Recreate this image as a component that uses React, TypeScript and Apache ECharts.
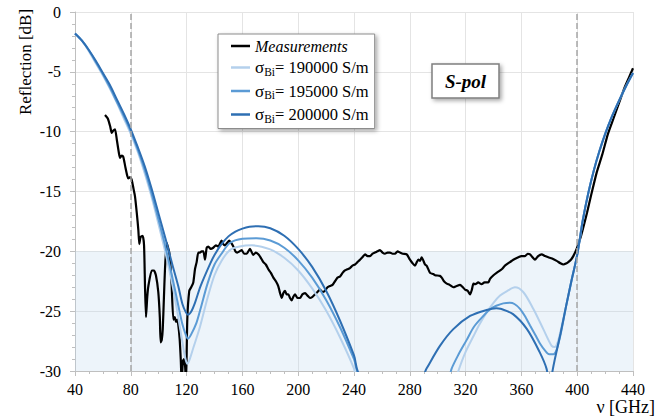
import React, { useEffect, useRef } from "react";
import * as echarts from "echarts";

const xTicks = [40, 80, 120, 160, 200, 240, 280, 320, 360, 400, 440];
const yTicks = [-30, -25, -20, -15, -10, -5, 0];

const measFreq = [61.5, 63.5, 65.3, 66.3, 67.5, 68.7, 70, 71.5, 72.3, 73.5, 74.6, 76, 77.5, 78.2, 79.5, 80.6, 82, 83, 84.3, 85.4, 86.1, 87, 88.5, 89.5, 90.2, 90.9, 91.8, 92.6, 95, 96.5, 98, 99.7, 100.8, 101.4, 102.2, 102.9, 103.7, 104.5, 105.7, 106.5, 107.6, 108.5, 109.3, 110.5, 111.5, 112.4, 113.3, 114.1, 115, 115.8, 116.5, 117.3, 118.1, 118.9, 119.6, 120.5, 121.9, 123.3, 124.8, 126, 127.2, 128.4, 129.6, 130.8, 132, 133.2, 134.4, 135.6, 137.3, 139.1, 141, 142.7, 145.1, 146.3, 147.5, 149, 150.6, 152, 153.5, 155, 156.3, 158, 159.5, 161.2, 163.1, 165.4, 167.8, 169.6, 171.4, 173, 175, 176.8, 178.6, 180.4, 182.2, 184, 185.7, 187, 188.2, 189.3, 190.5, 191.7, 192.9, 194.1, 195.3, 196.5, 197.7, 199.5, 201.3, 203, 204.9, 206.7, 208.5, 210.2, 212, 213.8, 215.6, 217.4, 219.2, 221, 222.8, 224.6, 226.4, 228.2, 230, 231.8, 233.5, 235.3, 237.1, 238.9, 240.7, 242.5, 244.3, 246, 247.9, 249.7, 251.5, 253.3, 255, 256.8, 258.6, 260.4, 262.2, 264, 265.8, 267.6, 269.4, 271.2, 273, 275, 277.8, 280.1, 282, 283.7, 285, 286.1, 287.4, 288.5, 290.9, 292.1, 294.5, 296.9, 298.1, 301.6, 302.9, 304.5, 306.5, 308.5, 311.2, 313.5, 316, 318, 319.6, 321.5, 323.2, 324.5, 325.6, 327, 329, 331.5, 333.5, 336.3, 337.5, 340, 342.2, 345.9, 348.2, 351.8, 354.2, 357.8, 360, 362.6, 364.5, 366.2, 368, 369.7, 372, 374.5, 377, 379.3, 382, 385.3, 388, 390, 392.4, 393.6, 395.5, 397.2, 399.6, 403, 407, 410, 414, 418, 422, 426, 430, 434, 437, 440];
const measDb = [-8.6, -8.9, -9.6, -10.1, -9.9, -9.8, -10.7, -11.8, -12.2, -12.0, -12.1, -12.9, -13.7, -13.9, -13.8, -14.0, -14.8, -15.4, -16.8, -18.2, -19.4, -18.8, -18.7, -19.5, -23, -25.5, -23.8, -22.9, -21.6, -21.6, -22.0, -23.4, -25.5, -27.6, -27.4, -26.5, -24.0, -21.5, -19.3, -19.6, -20.1, -21.3, -22.9, -25.7, -25.5, -25.9, -25.7, -26.2, -27.3, -29, -31, -29.2, -29, -29.6, -31, -25.7, -23.3, -23.0, -22.6, -21.5, -20.9, -20.1, -20.1, -20.0, -20.0, -20.7, -19.7, -19.6, -19.8, -19.7, -19.5, -19.6, -19.1, -19.4, -19.5, -19.3, -19.1, -19.3, -19.6, -20.0, -20.1, -20.0, -19.9, -20.2, -20.2, -19.8, -20.3, -20.1, -20.25, -20.5, -20.9, -21.1, -21.5, -21.8, -22.2, -22.5, -22.9, -23.5, -23.9, -23.5, -23.3, -23.6, -23.6, -23.9, -24.1, -23.8, -23.6, -23.9, -23.9, -23.6, -23.5, -23.7, -23.9, -23.8, -23.6, -23.4, -23.2, -23.4, -23.3, -23.0, -22.9, -22.8, -22.5, -22.2, -22.1, -21.8, -21.6, -21.5, -21.4, -21.2, -21.1, -20.9, -20.7, -20.5, -20.25, -20.4, -20.4, -20.2, -20.1, -20.0, -19.9, -20.1, -20.2, -20.1, -20.1, -20.2, -20.2, -20.0, -20.1, -20.2, -20.25, -20.7, -21.0, -21.2, -20.9, -20.7, -20.8, -20.5, -21.1, -21.2, -21.8, -21.9, -22.0, -22.05, -22.2, -22.5, -22.7, -22.8, -23.0, -22.9, -22.8, -23.0, -23.2, -23.3, -23.6, -23.2, -22.7, -22.75, -22.6, -22.75, -22.6, -22.6, -22.3, -22.0, -21.8, -21.5, -21.2, -20.9, -20.7, -20.5, -20.4, -20.4, -20.2, -20.25, -20.5, -20.7, -20.4, -20.25, -20.4, -20.5, -20.6, -20.8, -21.0, -21.1, -21.0, -20.9, -20.7, -20.4, -19.8, -18.6, -16.8, -15.3, -13.4, -11.9, -10.2, -8.9, -7.6, -6.3, -5.5, -4.7];

const s190Freq = [40, 45, 50, 55, 60, 65, 70, 75, 80, 85, 90, 95, 100, 105, 110, 114, 117, 119, 120.5, 122, 125, 129.6, 135, 140, 145, 151, 158, 166.7, 180, 190, 200, 210, 220, 230, 240, 243, 290, 308, 314.8, 320, 325.6, 330, 335.1, 340, 344.7, 350, 355.4, 361.3, 368.5, 375.7, 381.7, 384, 386, 388, 392, 396, 400, 404, 408, 412, 416, 420, 425, 430, 435, 440];
const s190Db = [-1.8, -2.4, -3.3, -4.3, -5.3, -6.4, -7.6, -8.9, -10.2, -11.7, -13.5, -15.5, -17.8, -20.2, -22.9, -25.5, -27.6, -28.9, -29.4, -29.1, -28.0, -26.3, -23.9, -22.0, -20.8, -19.9, -19.6, -19.5, -19.84, -20.54, -21.6, -23.1, -24.95, -27.2, -29.8, -31, -31, -32.5, -30, -28.4, -27.1, -26.1, -25.1, -24.3, -23.7, -23.3, -23.0, -23.4, -24.8, -26.5, -27.9, -28.0, -27.6, -26.7, -24.6, -22.4, -20.3, -17.4, -15.1, -13.2, -11.6, -10.2, -8.7, -7.4, -6.2, -5.1];

const s195Freq = [40, 45, 50, 55, 60, 65, 70, 75, 80, 85, 90, 95, 100, 105, 110, 114, 117, 119.5, 121, 123, 127, 130, 135, 140, 145, 151, 160, 170.2, 180, 190, 200, 210, 220, 230, 240, 245, 290, 305, 310, 315, 320.8, 326, 332.7, 338, 342, 347, 351.8, 355, 359, 363, 366.2, 370, 373.3, 377, 380, 383, 385, 388, 392, 396, 400, 404, 408, 412, 416, 420, 425, 430, 435, 440];
const s195Db = [-1.8, -2.4, -3.2, -4.2, -5.2, -6.3, -7.5, -8.7, -10.0, -11.5, -13.2, -15.2, -17.4, -19.7, -22.3, -24.5, -26.1, -27.0, -27.3, -27.0, -26.0, -24.8, -22.7, -21.1, -20.2, -19.3, -18.95, -18.9, -19.1, -19.7, -20.75, -22.2, -24.06, -26.34, -29.0, -30.5, -31, -31.6, -29.8, -28.6, -27.4, -26.3, -25.4, -24.8, -24.55, -24.35, -24.3, -24.4, -24.8, -25.5, -26.2, -27.0, -27.7, -28.3, -28.6, -28.6, -28.3, -27.0, -24.6, -22.4, -20.3, -17.4, -15.1, -13.2, -11.6, -10.2, -8.7, -7.4, -6.2, -5.1];

const s200Freq = [40, 45, 50, 55, 60, 65, 70, 75, 80, 85, 90, 95, 100, 105, 110, 114, 117, 119.5, 121, 123, 126, 130, 137, 140, 145, 150, 155, 160, 165, 171.4, 180, 190, 200, 210, 220, 230, 240, 245, 286, 292, 301.6, 311.2, 323.2, 335, 342, 345, 354, 364, 373, 378, 380.5, 382, 384, 388, 392, 396, 400, 404, 408, 412, 416, 420, 425, 430, 435, 440];
const s200Db = [-1.8, -2.4, -3.2, -4.1, -5.1, -6.1, -7.3, -8.5, -9.8, -11.3, -12.9, -14.8, -16.9, -19.0, -21.2, -22.9, -24.4, -25.1, -25.3, -25.1, -24.3, -22.9, -21.0, -20.3, -19.4, -18.75, -18.35, -18.1, -17.95, -17.9, -18.07, -18.7, -19.8, -21.3, -23.3, -25.8, -28.7, -30.4, -31, -29.8, -27.9, -26.5, -25.4, -24.9, -24.75, -24.8, -25.25, -26.5, -28.4, -29.8, -31.5, -30.2, -29.0, -26.9, -24.6, -22.4, -20.3, -17.4, -15.1, -13.2, -11.6, -10.2, -8.7, -7.4, -6.2, -5.1];

const seriesNames = ["Measurements", "σBi= 190000 S/m", "σBi= 195000 S/m", "σBi= 200000 S/m"];
const sigmaValues = ["190000", "195000", "200000"];

const zip = (xs: number[], ys: number[]) => xs.map((x, i) => [x, ys[i]]);

const FONT = "'Liberation Serif', 'DejaVu Serif', serif";

export default function App() {
  const ref = useRef<HTMLDivElement>(null);
  useEffect(() => {
    document.body.style.margin = "0";
    if (!ref.current) return;
    const chart = echarts.init(ref.current, null, { renderer: "svg" });
    const axisGray = "#bfbfbf";
    const modelColors = ["#b4d0ec", "#5b9bd5", "#2e6fb3"];
    const modelData = [zip(s190Freq, s190Db), zip(s195Freq, s195Db), zip(s200Freq, s200Db)];
    chart.setOption({
      animation: false,
      textStyle: { fontFamily: FONT },
      grid: { left: 75, right: 28, top: 12, bottom: 44 },
      xAxis: {
        type: "value",
        min: xTicks[0],
        max: xTicks[xTicks.length - 1],
        interval: 40,
        name: "ν [GHz]",
        nameLocation: "end",
        nameGap: 22,
        nameTextStyle: { fontFamily: FONT, fontSize: 18, color: "#000", align: "right", verticalAlign: "top", padding: [27, 0, 0, 0] },
        axisLine: { onZero: false, lineStyle: { color: axisGray } },
        axisTick: { show: true, length: 5, lineStyle: { color: axisGray } },
        minorTick: { show: true, splitNumber: 4, length: 3, lineStyle: { color: axisGray } },
        splitLine: { show: true, lineStyle: { color: "#e4e4e4" } },
        axisLabel: { fontFamily: FONT, fontSize: 16, color: "#000", margin: 10 },
      },
      yAxis: {
        type: "value",
        min: yTicks[0],
        max: yTicks[yTicks.length - 1],
        interval: 5,
        axisLine: { show: true, onZero: false, lineStyle: { color: axisGray } },
        axisTick: { show: true, length: 5, lineStyle: { color: axisGray } },
        minorTick: { show: true, splitNumber: 5, length: 3, lineStyle: { color: axisGray } },
        splitLine: { show: true, lineStyle: { color: "#e4e4e4" } },
        axisLabel: { fontFamily: FONT, fontSize: 16, color: "#000", margin: 14 },
      },
      legend: {
        orient: "vertical",
        left: 218,
        top: 34,
        icon: "rect",
        itemWidth: 19,
        itemHeight: 2.5,
        itemGap: 5,
        padding: [4, 6, 4, 13],
        backgroundColor: "#fff",
        borderColor: "#8c8c8c",
        borderWidth: 1,
        shadowBlur: 4,
        shadowColor: "rgba(0,0,0,0.35)",
        shadowOffsetX: 2,
        shadowOffsetY: 2,
        data: seriesNames,
        formatter: (name: string) => {
          const idx = seriesNames.indexOf(name);
          if (idx === 0) return "{m|Measurements}";
          return "{s|σ}{sub|Bi}{t|= " + sigmaValues[idx - 1] + " S/m}";
        },
        textStyle: {
          fontFamily: FONT,
          fontSize: 16,
          color: "#000",
          rich: {
            m: { fontFamily: FONT, fontSize: 16, fontStyle: "italic", lineHeight: 20, color: "#000" },
            s: { fontFamily: FONT, fontSize: 17, lineHeight: 20, color: "#000" },
            sub: { fontFamily: FONT, fontSize: 11.5, lineHeight: 20, verticalAlign: "bottom", color: "#000" },
            t: { fontFamily: FONT, fontSize: 16.5, lineHeight: 20, color: "#000" },
          },
        },
      },
      graphic: [
        {
          type: "rect",
          shape: { x: 432, y: 64, width: 67, height: 34 },
          style: { fill: "#fff", stroke: "#7f7f7f", lineWidth: 1.5, shadowBlur: 4, shadowOffsetX: 2, shadowOffsetY: 2, shadowColor: "rgba(0,0,0,0.35)" },
          z: 10,
        },
        {
          type: "text",
          x: 465.5,
          y: 81,
          style: { text: "S-pol", fontFamily: FONT, fontSize: 19, fontWeight: "bold", fontStyle: "italic", fill: "#000", align: "center", verticalAlign: "middle" },
          z: 11,
        },
        {
          type: "text",
          x: 25,
          y: 62,
          rotation: Math.PI / 2,
          style: { text: "Reflection [dB]", fontFamily: FONT, fontSize: 17, fill: "#000", align: "center", verticalAlign: "middle" },
        },
      ],
      series: [
        {
          name: seriesNames[0],
          type: "line",
          data: zip(measFreq, measDb),
          symbol: "none",
          smooth: 0.2,
          lineStyle: { color: "#000", width: 2.2 },
          itemStyle: { color: "#000" },
          markArea: {
            silent: true,
            itemStyle: { color: "rgba(189,215,238,0.28)" },
            data: [[{ yAxis: -20 }, { yAxis: -30 }]],
          },
          markLine: {
            silent: true,
            symbol: "none",
            label: { show: false },
            lineStyle: { type: "dashed", color: "#a6a6a6", width: 1.5 },
            data: [{ xAxis: 80 }, { xAxis: 400 }],
          },
        },
        ...modelData.map((d, i) => ({
          name: seriesNames[i + 1],
          type: "line",
          data: d,
          symbol: "none",
          smooth: 0.3,
          lineStyle: { color: modelColors[i], width: 2 },
          itemStyle: { color: modelColors[i] },
        })),
      ],
    });
    return () => chart.dispose();
  }, []);
  return <div ref={ref} style={{ width: 661, height: 416 }} />;
}
